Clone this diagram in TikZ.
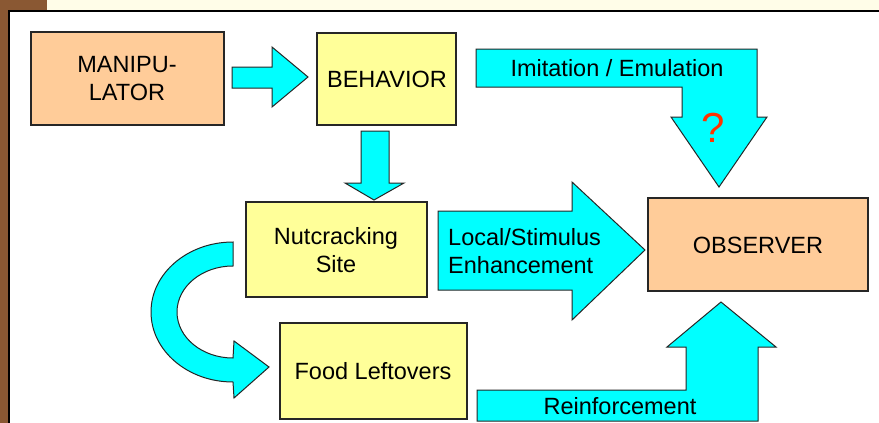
\documentclass[tikz,border=0pt]{standalone}
\usepackage{fontspec}
\setmainfont{Liberation Sans}
\definecolor{peach}{HTML}{FFCC99}
\definecolor{pyellow}{HTML}{FFFF99}
\definecolor{pcyan}{HTML}{00FFFF}
\definecolor{pbrown}{HTML}{8A5833}
\definecolor{pcream}{HTML}{FFFDE8}
\definecolor{qred}{HTML}{FF3300}
\begin{document}
\begin{tikzpicture}[x=1pt,y=1pt,
  box/.style={draw=black!85, line width=1.2pt},
  arrowshape/.style={draw=black!85, fill=pcyan, line width=1pt, line join=miter},
  lbl/.style={font=\fontsize{23.5}{28}\selectfont, align=center, inner sep=0pt}]
\useasboundingbox (0,0) rectangle (879,-423);
% background
\fill[pbrown] (0,0) rectangle (47,-423);
\fill[pcream] (47,0) rectangle (879,-11);
\filldraw[fill=white, draw=black, line width=1.5pt] (9,-11) rectangle (885,-430);
% boxes
\filldraw[box, fill=peach] (31,-32) rectangle (224,-125);
\node[lbl] (manip) at (127,-79) {MANIPU-\\LATOR};
\filldraw[box, fill=pyellow] (317,-33) rectangle (456,-125);
\node[lbl] (behav) at (387,-79) {BEHAVIOR};
\filldraw[box, fill=pyellow] (246,-202) rectangle (427,-297);
\node[lbl] (nut) at (336,-250) {Nutcracking\\Site};
\filldraw[box, fill=pyellow] (280,-323) rectangle (467,-419);
\node[lbl] (food) at (373,-371) {Food Leftovers};
\filldraw[box, fill=peach] (648,-198) rectangle (868,-291);
\node[lbl] (obs) at (758,-245) {OBSERVER};
% arrows
\filldraw[arrowshape] (232,-67) -- (272,-67) -- (272,-47) -- (308,-77) -- (272,-107) -- (272,-88) -- (232,-88) -- cycle;
\filldraw[arrowshape] (361,-131) -- (389,-131) -- (389,-183) -- (404,-183) -- (374,-200) -- (345,-183) -- (361,-183) -- cycle;
\filldraw[arrowshape] (476,-49) -- (757,-49) -- (757,-117) -- (767,-117) -- (719,-187) -- (671,-117) -- (682,-117) -- (682,-87) -- (476,-87) -- cycle;
\filldraw[arrowshape] (438,-211) -- (572,-211) -- (572,-182) -- (645,-250) -- (572,-320) -- (572,-290) -- (438,-290) -- cycle;
\filldraw[arrowshape] (477,-421) -- (477,-390) -- (686,-390) -- (686,-347) -- (667,-347) -- (721,-302) -- (776,-347) -- (758,-347) -- (758,-421) -- cycle;
% curved arrow
\filldraw[arrowshape] (233,-242) arc[start angle=90, end angle=270, x radius=82pt, y radius=70pt]
  -- (234,-398) -- (269,-367) -- (234,-341) -- (233,-358)
  arc[start angle=270, end angle=90, x radius=56pt, y radius=46pt] -- cycle;
% arrow labels
\node[lbl] (imit) at (617,-68) {Imitation / Emulation};
\node[inner sep=0pt, text=qred, font=\fontsize{42}{46}\selectfont] (q) at (713,-128) {?};
\node[lbl, align=left, anchor=west] (local) at (448,-251) {Local/Stimulus\\Enhancement};
\node[lbl] (reinf) at (620,-406) {Reinforcement};
\end{tikzpicture}
\end{document}
